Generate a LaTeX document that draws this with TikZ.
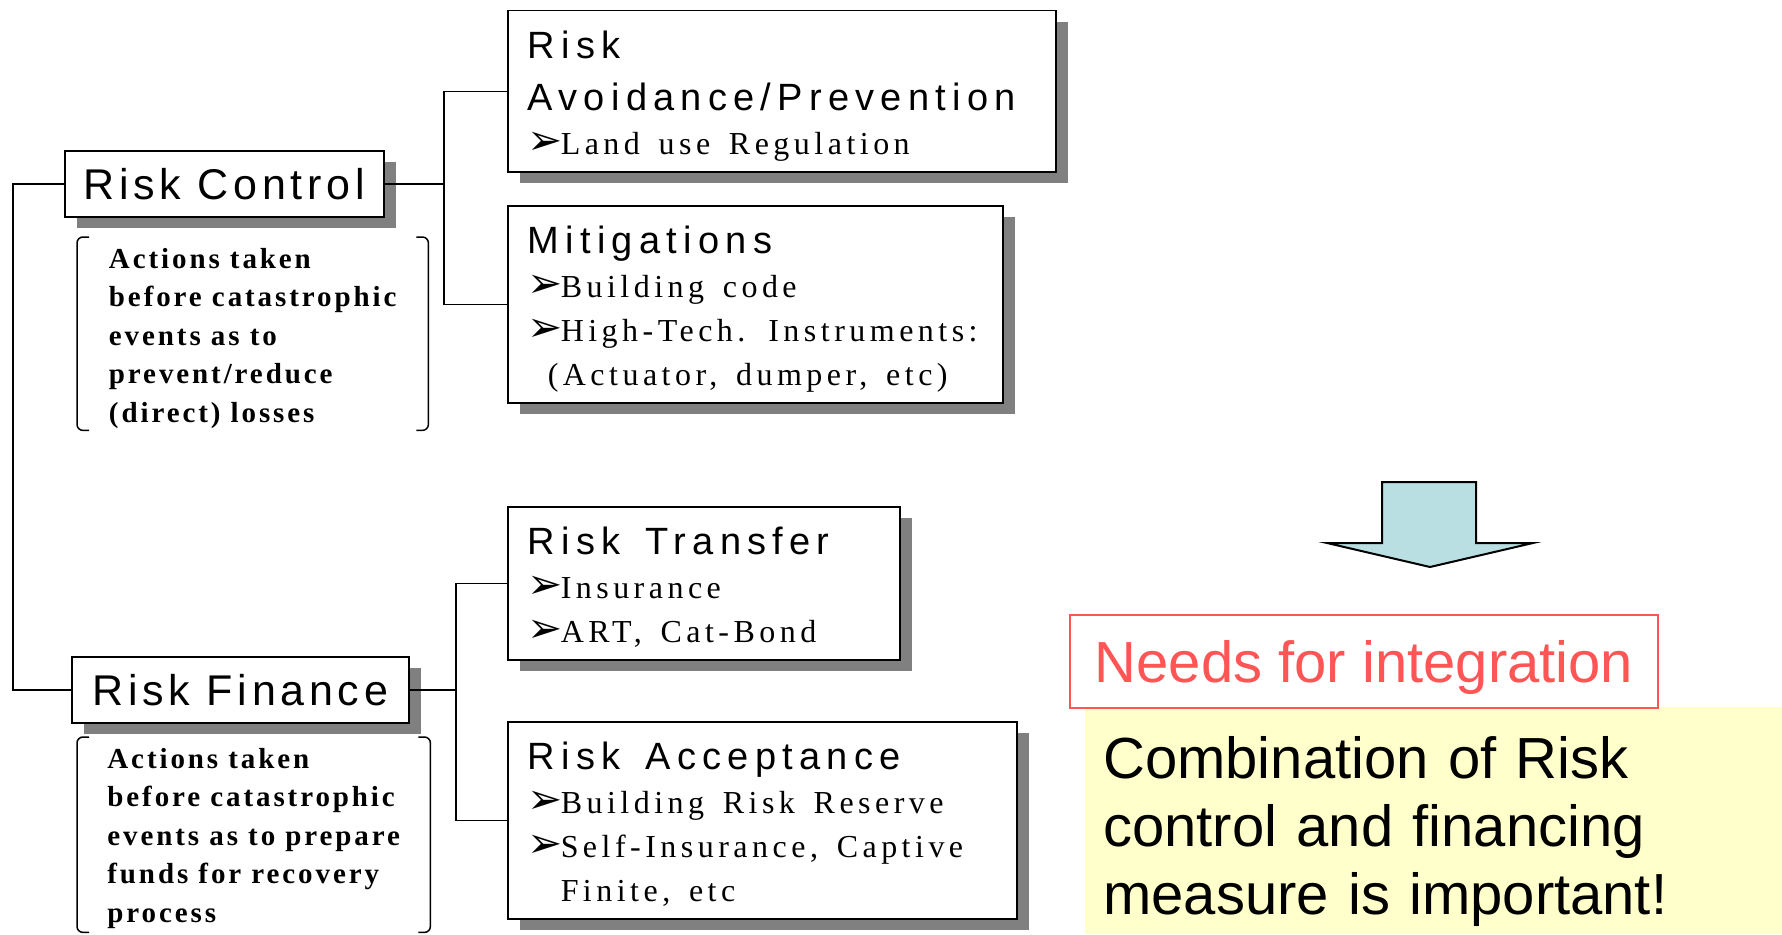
\documentclass[tikz,border=0pt]{standalone}
\usepackage{fontspec}
\setmainfont{Liberation Serif}
\newfontfamily\headsans[LetterSpace=11]{Liberation Sans}
\newfontfamily\titlesans[LetterSpace=16.5,WordSpace=1.5]{Liberation Sans}
\newfontfamily\itemserif[LetterSpace=14,WordSpace=1.5]{Liberation Serif}
\newfontfamily\noteserif[LetterSpace=10]{Liberation Serif}
\newfontfamily\bigsans{Liberation Sans}
\newfontfamily\symfont{DejaVu Sans}
\usepackage{tikz}
\usetikzlibrary{positioning, shadows}

\definecolor{shadowgray}{HTML}{808080}
\definecolor{needred}{HTML}{FF5555}
\definecolor{arrowblue}{HTML}{B9DFE2}
\definecolor{noteyellow}{HTML}{FFFFCC}

% lines keep the font's own word space
\newcommand{\itemline}[1]{\mbox{\spaceskip=0pt\xspaceskip=0pt #1}}
\newcommand{\ttl}[1]{\itemline{\titlesans\fontsize{38}{44}\selectfont #1}}
\newcommand{\bul}[1]{\itemline{\makebox[33pt][l]{\symfont\fontsize{42}{44}\selectfont ➢}#1}}
\newcommand{\topgap}[1]{\rule{0pt}{#1}}
\newcommand{\botgap}[1]{\rule[-#1]{0pt}{#1}}

\tikzstyle{headbox} = [rectangle, draw=black, line width=1.5pt, fill=white, anchor=north west, inner sep=0pt, minimum height=66pt, text height=31pt, text depth=0pt, font=\headsans\fontsize{43}{50}\selectfont, drop shadow={shadow xshift=12pt, shadow yshift=-11pt, fill=shadowgray, opacity=1}]
\tikzstyle{itembox} = [rectangle, draw=black, line width=1.5pt, fill=white, anchor=north west, inner xsep=20pt, inner ysep=5pt, align=left, font=\itemserif\fontsize{32}{44}\selectfont, drop shadow={shadow xshift=12pt, shadow yshift=-11pt, fill=shadowgray, opacity=1}]
\tikzstyle{note} = [anchor=north west, inner sep=0pt, minimum width=351pt, align=left, font=\noteserif\bfseries\fontsize{29}{38.5}\selectfont]
\tikzstyle{bracket} = [line width=1.5pt, rounded corners=6pt]
\tikzstyle{link} = [line width=1.5pt]

\begin{document}
\begin{tikzpicture}[x=1pt, y=-1pt]
	\useasboundingbox (0,0) rectangle (1782,934);
	\fill[white] (0,0) rectangle (1782,934);
	
	% left column
	\node (ctrl) [headbox, minimum width=319pt] at (64,150) {Risk Control};
	\node (ctrlnote) [note] at (77,237) {\topgap{31pt}Actions taken\\ before catastrophic\\ events as to\\ prevent/reduce\\ (direct) losses\botgap{8pt}};
	
	\node (fin) [headbox, minimum width=337pt] at (71,656) {Risk Finance};
	\node (finnote) [note, minimum width=353pt] at (77,737) {\topgap{31pt}Actions taken\\ before catastrophic\\ events as to prepare\\ funds for recovery\\ process\botgap{10pt}};
	
	% measures
	\node (avoid) [itembox, text width=508pt] at (507,10) {\topgap{43pt}\ttl{Risk}\\[8pt] \ttl{Avoidance/Prevention}\\ \bul{Land use Regulation}\botgap{12pt}};
	\node (mitig) [itembox, text width=455pt] at (507,205) {\topgap{43pt}\ttl{Mitigations}\\ \bul{Building code}\\ \bul{High-Tech. Instruments:}\\ \hspace*{20pt}\itemline{(Actuator, dumper, etc)}\botgap{12pt}};
	\node (transfer) [itembox, text width=352pt] at (507,506) {\topgap{43pt}\ttl{Risk Transfer}\\ \bul{Insurance}\\ \bul{ART, Cat-Bond}\botgap{12pt}};
	\node (accept) [itembox, text width=469pt] at (507,721) {\topgap{43pt}\ttl{Risk Acceptance}\\ \bul{Building Risk Reserve}\\ \bul{Self-Insurance, Captive}\\ \hspace*{33pt}\itemline{Finite, etc}\botgap{12pt}};
	
	% right side
	\draw[line width=2pt, fill=arrowblue, line join=miter] (1382,482) -- (1476,482) -- (1476,543) -- (1533,543) -- (1430,567) -- (1327,543) -- (1382,543) -- cycle;
	\node (combo) [fill=noteyellow, anchor=north west, minimum width=697pt, inner xsep=18pt, inner ysep=0pt, text width=661pt, align=left, font=\bigsans\fontsize{58}{68}\selectfont] at (1085,707) {\topgap{71pt}Combination of Risk\\ control and financing\\ measure is important!\botgap{20pt}};
	\node (needs) [draw=needred, line width=2pt, fill=white, anchor=north west, minimum width=588pt, minimum height=93pt, inner sep=0pt, text height=41.5pt, text depth=0pt, text=needred, font=\bigsans\fontsize{58}{68}\selectfont] at (1069,614) {Needs for integration};
	
	% brackets
	\draw [bracket] ([xshift=12pt]ctrlnote.north west) -- (ctrlnote.north west) -- (ctrlnote.south west) -- ([xshift=12pt]ctrlnote.south west);
	\draw [bracket] ([xshift=-12pt]ctrlnote.north east) -- (ctrlnote.north east) -- (ctrlnote.south east) -- ([xshift=-12pt]ctrlnote.south east);
	\draw [bracket] ([xshift=12pt]finnote.north west) -- (finnote.north west) -- (finnote.south west) -- ([xshift=12pt]finnote.south west);
	\draw [bracket] ([xshift=-12pt]finnote.north east) -- (finnote.north east) -- (finnote.south east) -- ([xshift=-12pt]finnote.south east);
	
	% connectors
	\draw [link] (ctrl.west) -- ++(-51,0) |- (fin.west);
	\draw [link] (avoid.west) -- ++(-63,0) coordinate (cfork) |- (mitig.west);
	\draw [link] (ctrl.east) -- (ctrl.east -| cfork);
	\draw [link] (transfer.west) -- ++(-51,0) coordinate (ffork) |- (accept.west);
	\draw [link] (fin.east) -- (fin.east -| ffork);
	
\end{tikzpicture}
\end{document}
